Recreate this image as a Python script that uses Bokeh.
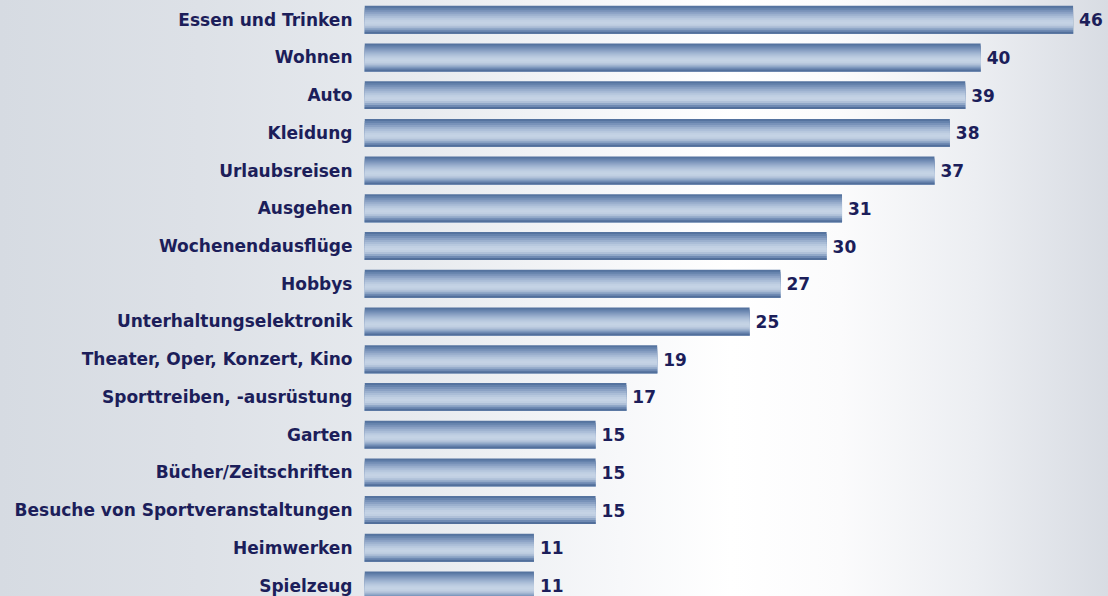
import numpy as np
from bokeh.plotting import figure
from bokeh.models import ColumnDataSource, Range1d, FixedTicker
from bokeh.transform import dodge
from bokeh.core.properties import value
from bokeh.embed import file_html
from bokeh.resources import INLINE

# ---- data ----
categories = ["Essen und Trinken", "Wohnen", "Auto", "Kleidung", "Urlaubsreisen",
              "Ausgehen", "Wochenendausflüge", "Hobbys", "Unterhaltungselektronik",
              "Theater, Oper, Konzert, Kino", "Sporttreiben, -ausrüstung", "Garten",
              "Bücher/Zeitschriften", "Besuche von Sportveranstaltungen",
              "Heimwerken", "Spielzeug"]
values = [46, 40, 39, 38, 37, 31, 30, 27, 25, 19, 17, 15, 15, 15, 11, 11]

# ---- styles ----
TEXT_COLOR = "#1c1e5a"
FONT = "DejaVu Sans"
# vertical shading of the metallic bars, top -> bottom
strip_colors = ["#55739f", "#6683ad", "#7892b9", "#8aa1c4", "#9bb0ce", "#aabdd7",
                "#b7c8de", "#c1d0e3", "#c5d3e5", "#c0cfe2", "#afc0d8", "#91a8c8",
                "#6f8ab3", "#526f9b"]
BAR_H = 0.74

n = len(categories)
ypos = list(range(n - 1, -1, -1))  # first category on top
src = ColumnDataSource(dict(y=ypos, value=values, cat=categories,
                            label=[str(v) for v in values]))

W, H = 1108, 596
p = figure(width=W, height=H, output_backend="svg", toolbar_location=None,
           x_range=Range1d(0, 48.3), y_range=Range1d(-0.2915, 15.509),
           x_axis_location=None, min_border_left=364, min_border_right=0,
           min_border_top=0, min_border_bottom=0)
p.background_fill_color = None
p.border_fill_color = None
p.outline_line_color = None
p.grid.visible = False
p.styles = {"background": "linear-gradient(90deg, #d6dbe2 0%, #dde1e7 18%, #e8ebef 38%, "
                          "#f7f8fa 56%, #ffffff 66%, #fbfbfc 76%, #eceef2 88%, #d8dce3 100%)"}

# bars: overlapping layers (each reaching down to the bar bottom) give the tube shading
ns = len(strip_colors)
sh = BAR_H / ns
for k, c in enumerate(strip_colors):
    top = BAR_H / 2 - sh * k
    bottom = -BAR_H / 2
    p.hbar(y=dodge("y", (top + bottom) / 2), left=0, right="value",
           height=top - bottom, fill_color=c, line_color=None, source=src)

# value labels
p.text(x="value", y="y", text="label", source=src, x_offset=6,
       text_align="left", text_baseline="middle", text_color=TEXT_COLOR,
       text_font=value(FONT), text_font_style="bold", text_font_size="17px")

# category axis
ax = p.yaxis[0]
ax.ticker = FixedTicker(ticks=ypos)
ax.major_label_overrides = {y: c for y, c in zip(ypos, categories)}
ax.axis_line_color = None
ax.major_tick_line_color = None
ax.minor_tick_line_color = None
ax.major_tick_out = 0
ax.major_tick_in = 0
ax.major_label_standoff = 12
ax.major_label_text_font = FONT
ax.major_label_text_font_style = "bold"
ax.major_label_text_font_size = "17px"
ax.major_label_text_color = TEXT_COLOR

open("out.html", "w").write(file_html(p, INLINE))
